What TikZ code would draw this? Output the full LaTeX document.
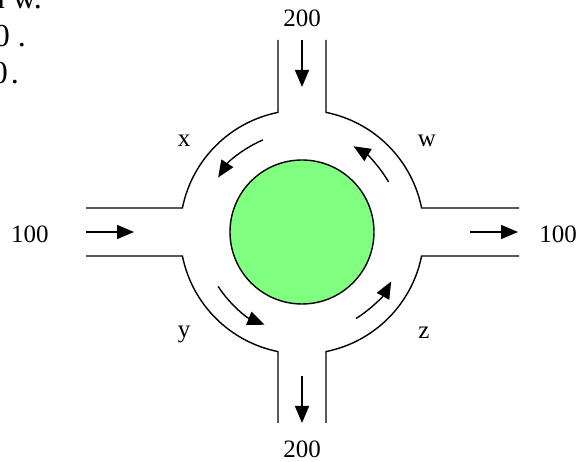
\documentclass[tikz,border=0pt]{standalone}
\usepackage{fontspec}
\setmainfont{Liberation Serif}
\usetikzlibrary{arrows.meta,calc}
\definecolor{islandgreen}{RGB}{128,255,128}
\tikzset{
  road/.style={line width=1.4pt},
  flow/.style={line width=1.4pt,-{Triangle[length=17pt,width=14pt]}},
  lbl/.style={inner sep=0pt,anchor=base,font=\fontsize{25}{30}\selectfont},
  frag/.style={inner sep=0pt,anchor=base east,font=\fontsize{32}{38}\selectfont}
}
\begin{document}
\begin{tikzpicture}[x=1pt,y=1pt]
\useasboundingbox (0,0) rectangle (579,462);
\clip (0,0) rectangle (579,462);
\coordinate (C) at (302,230);
% road outline
\draw[road] (86,254) -- (182.4,254) arc[start angle=168.65,end angle=101.35,radius=122pt] -- (278,422);
\draw[road] (326,422) -- (326,349.6) arc[start angle=78.65,end angle=11.35,radius=122pt] -- (519,254);
\draw[road] (519,206) -- (421.6,206) arc[start angle=-11.35,end angle=-78.65,radius=122pt] -- (326,39);
\draw[road] (278,39) -- (278,110.4) arc[start angle=-101.35,end angle=-168.65,radius=122pt] -- (86,206);
% island
\fill[islandgreen,draw=black,line width=1.4pt] (C) circle[radius=72pt];
% circulating arrows
\draw[flow] ($(C)+(113:100pt)$) arc[start angle=113,end angle=147,radius=100pt];
\draw[flow] ($(C)+(213:100pt)$) arc[start angle=213,end angle=248,radius=100pt];
\draw[flow] ($(C)+(302:102pt)$) arc[start angle=302,end angle=331,radius=102pt];
\draw[flow] ($(C)+(30:100pt)$) arc[start angle=30,end angle=59,radius=100pt];
% straight flow arrows
\coordinate (tA) at (302,422); \coordinate (tB) at (302,375);
\coordinate (bA) at (302,86);  \coordinate (bB) at (302,39);
\coordinate (lA) at (86,230);  \coordinate (lB) at (134,230);
\coordinate (rA) at (470,230); \coordinate (rB) at (518,230);
\draw[flow] (tA) -- (tB);
\draw[flow] (bA) -- (bB);
\draw[flow] (lA) -- (lB);
\draw[flow] (rA) -- (rB);
% labels
\node[lbl] (top) at (302,435) {200};
\node[lbl] (bot) at (302,4) {200};
\node[lbl] (lft) at (30,219) {100};
\node[lbl] (rgt) at (558,219) {100};
\node[lbl] (lx) at (184,315) {x};
\node[lbl] (lw) at (427,315) {w};
\node[lbl] (ly) at (184,124) {y};
\node[lbl] (lz) at (424,123) {z};
% text fragments cut by the picture's edge, as in the reference
\node[frag] (f1) at (42,453) {n w.};
\node[frag] (f2) at (26,415) {0 .};
\node[frag] (f3) at (19,378) {0\hspace{3pt}.};
\end{tikzpicture}
\end{document}
